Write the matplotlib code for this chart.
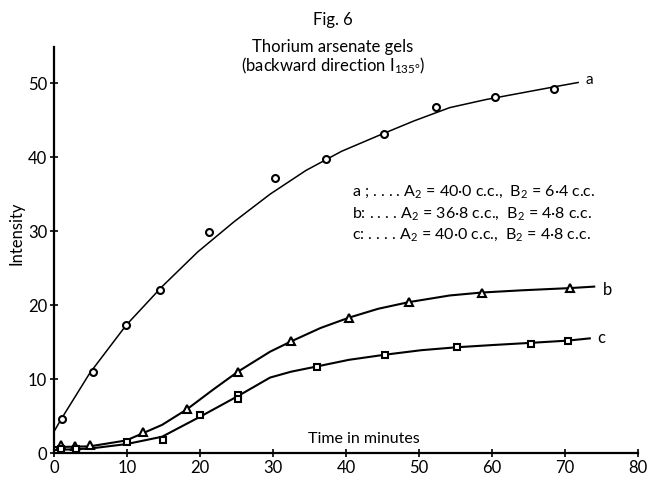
import matplotlib
matplotlib.use("Agg")
import matplotlib.pyplot as plt


# ------------------ DATA ------------------

# measured points
a_time = [1.1, 5.3, 9.9, 14.5, 21.2, 30.3, 37.3, 45.2, 52.3, 60.4, 68.5]
a_int = [4.6, 10.9, 17.3, 22.0, 29.9, 37.2, 39.7, 43.2, 46.8, 48.1, 49.2]

b_time = [1.0, 2.9, 4.9, 12.2, 18.2, 25.2, 32.5, 40.4, 48.6, 58.6, 70.7]
b_int = [1.1, 0.9, 1.1, 2.9, 6.0, 10.9, 15.1, 18.3, 20.4, 21.7, 22.3]

c_time = [1.0, 3.0, 10.0, 14.9, 20.0, 25.2, 25.2, 36.0, 45.4, 55.2, 65.4, 70.4]
c_int = [0.5, 0.6, 1.5, 1.7, 5.1, 7.9, 7.3, 11.6, 13.2, 14.4, 14.7, 15.2]

# hand-drawn curves
a_curve_t = [0, 1, 4.9, 9.9, 14.8, 19.7, 24.7, 29.6, 34.5, 39.4, 44.4, 49.3,
             54.2, 59.2, 64.1, 69.0, 71.8]
a_curve_i = [2.9, 4.6, 10.8, 17.3, 22.5, 27.2, 31.3, 35.0, 38.2, 40.8, 42.9,
             44.9, 46.7, 47.8, 48.7, 49.6, 50.1]

b_curve_t = [0, 4.9, 9.9, 14.8, 18.2, 21.7, 25.2, 29.6, 32.5, 36.5, 40.4,
             44.4, 48.6, 54.2, 58.6, 64.1, 70.7, 74.0]
b_curve_i = [0.8, 0.9, 1.7, 3.8, 5.9, 8.5, 11.0, 13.7, 15.1, 16.9, 18.3, 19.5,
             20.4, 21.3, 21.7, 22.0, 22.3, 22.5]

c_curve_t = [0, 4.9, 9.9, 14.8, 20.0, 25.2, 29.6, 32.5, 36.0, 40.4, 45.4,
             50.3, 55.2, 60.1, 65.4, 70.4, 73.4]
c_curve_i = [0.4, 0.6, 1.2, 2.2, 4.9, 7.7, 10.2, 11.0, 11.7, 12.6, 13.3, 13.9,
             14.3, 14.6, 14.9, 15.2, 15.5]

legend_lines = [
    r"a ; . . . . $\mathrm{A}_2$ = 40·0 c.c.,  $\mathrm{B}_2$ = 6·4 c.c.",
    r"b: . . . . $\mathrm{A}_2$ = 36·8 c.c.,  $\mathrm{B}_2$ = 4·8 c.c.",
    r"c: . . . . $\mathrm{A}_2$ = 40·0 c.c.,  $\mathrm{B}_2$ = 4·8 c.c.",
]


# ------------------ STYLE ------------------

plt.rcParams["font.family"] = ["Lato", "DejaVu Sans"]
plt.rcParams["mathtext.fontset"] = "custom"
plt.rcParams["mathtext.rm"] = "Lato"
plt.rcParams["mathtext.it"] = "Lato:italic"
plt.rcParams["mathtext.bf"] = "Lato:bold"

INK = "black"


# ------------------ PLOT ------------------

fig = plt.figure(figsize=(6.49, 4.79), dpi=100)
ax = fig.add_axes([54 / 649, 26 / 479, 584 / 649, 406 / 479])

ax.plot(a_curve_t, a_curve_i, color=INK, lw=1.1)
ax.plot(b_curve_t, b_curve_i, color=INK, lw=1.5)
ax.plot(c_curve_t, c_curve_i, color=INK, lw=1.5)

ax.plot(a_time, a_int, "o", ms=5, mfc="white", mec=INK, mew=1.5)
ax.plot(b_time, b_int, "^", ms=6, mfc="white", mec=INK, mew=1.5)
ax.plot(c_time, c_int, "s", ms=5, mfc="white", mec=INK, mew=1.5)

ax.text(72.8, 50.4, "a", fontsize=11, va="center")
ax.text(75.2, 22.1, "b", fontsize=12, va="center")
ax.text(74.4, 15.5, "c", fontsize=12, va="center")

for i, line in enumerate(legend_lines):
    ax.text(40.8, 35.3 - i * 2.9, line, fontsize=11.5, va="center")

ax.text(42.5, 1.9, "Time in minutes", fontsize=11.5, ha="center", va="center")

ax.set_xlim(0, 80)
ax.set_ylim(0, 54.9)
ax.set_xticks(range(0, 81, 10))
ax.set_yticks(range(0, 51, 10))
ax.tick_params(direction="inout", length=6, width=1.2, labelsize=12, pad=2)
for side in ["top", "right"]:
    ax.spines[side].set_visible(False)
for side in ["left", "bottom"]:
    ax.spines[side].set_linewidth(1.6)

fig.text(17 / 649, 1 - 233 / 479, "Intensity", rotation=90,
         fontsize=12, ha="center", va="center")

fig.text(333 / 649, 1 - 20 / 479, "Fig. 6", fontsize=12, ha="center", va="center")
fig.text(333 / 649, 1 - 47 / 479, "Thorium arsenate gels", fontsize=12,
         ha="center", va="center")
fig.text(333 / 649, 1 - 66 / 479, r"(backward direction $\mathrm{I}_{135°}$)",
         fontsize=12, ha="center", va="center")

fig.savefig("out.png", dpi=100)
